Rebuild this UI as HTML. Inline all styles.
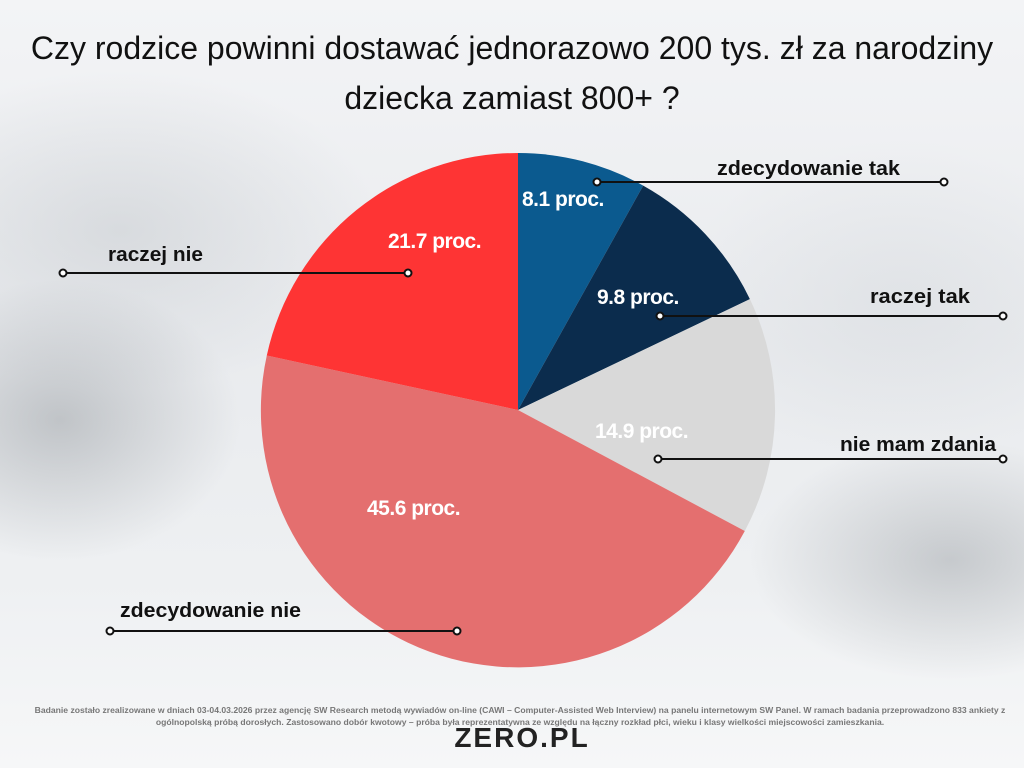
<!DOCTYPE html>
<html><head><meta charset="utf-8"><style>
html,body{margin:0;padding:0}
body{width:1024px;height:768px;overflow:hidden;position:relative;font-family:"Liberation Sans",sans-serif;
background:
radial-gradient(ellipse 180px 140px at 60px 420px,rgba(150,155,160,.5),transparent),
radial-gradient(ellipse 200px 120px at 950px 560px,rgba(150,155,160,.45),transparent),
radial-gradient(ellipse 260px 160px at 120px 230px,rgba(185,190,195,.4),transparent),
radial-gradient(ellipse 220px 160px at 900px 300px,rgba(200,205,210,.3),transparent),
linear-gradient(180deg,#f3f4f6 0%,#e9ebee 45%,#eef0f2 75%,#f6f7f8 100%);}
.t{position:absolute;left:0;width:1024px;text-align:center;font-size:32px;color:#111}
svg{position:absolute;left:0;top:0}
.foot{position:absolute;left:30px;width:980px;text-align:center;font-size:8.6px;font-weight:bold;color:#777;line-height:12px;top:704px}
.logo{position:absolute;left:432px;top:722px;width:180px;text-align:center;font-size:28px;font-weight:bold;color:#222;letter-spacing:2px}
</style></head><body>
<div class="t" style="top:30px">Czy rodzice powinni dostawać jednorazowo 200 tys. zł za narodziny</div>
<div class="t" style="top:80px">dziecka zamiast 800+ ?</div>
<svg width="1024" height="768">
<g>
<path d="M518,410 L518,153 A257,257 0 0 1 643.2,185.6 Z" fill="#0b5a8f"/>
<path d="M518,410 L643.2,185.6 A257,257 0 0 1 749.9,299.1 Z" fill="#0b2c4d"/>
<path d="M518,410 L749.9,299.1 A257,257 0 0 1 744.8,531 Z" fill="#d9d9d9"/>
<path d="M518,410 L744.8,531 A257,257 0 0 1 266.8,355.5 Z" fill="#e46f6f"/>
<path d="M518,410 L266.8,355.5 A257,257 0 0 1 518,153 Z" fill="#fe3434"/>
</g>
<g font-weight="bold" fill="#fff" font-size="21" letter-spacing="-0.5">
<text x="522" y="206">8.1 proc.</text>
<text x="597" y="304">9.8 proc.</text>
<text x="595" y="438">14.9 proc.</text>
<text x="367" y="515">45.6 proc.</text>
<text x="388" y="248">21.7 proc.</text>
</g>
<g stroke="#111" stroke-width="2" fill="#fff">
<line x1="597" y1="182" x2="944" y2="182"/><circle cx="597" cy="182" r="3.5"/><circle cx="944" cy="182" r="3.5"/>
<line x1="660" y1="316" x2="1003" y2="316"/><circle cx="660" cy="316" r="3.5"/><circle cx="1003" cy="316" r="3.5"/>
<line x1="658" y1="459" x2="1003" y2="459"/><circle cx="658" cy="459" r="3.5"/><circle cx="1003" cy="459" r="3.5"/>
<line x1="63" y1="273" x2="408" y2="273"/><circle cx="63" cy="273" r="3.5"/><circle cx="408" cy="273" r="3.5"/>
<line x1="110" y1="631" x2="457" y2="631"/><circle cx="110" cy="631" r="3.5"/><circle cx="457" cy="631" r="3.5"/>
</g>
<g font-weight="bold" fill="#111" font-size="20">
<text x="717" y="175" textLength="183" lengthAdjust="spacingAndGlyphs">zdecydowanie tak</text>
<text x="870" y="303" textLength="100" lengthAdjust="spacingAndGlyphs">raczej tak</text>
<text x="840" y="451" textLength="156" lengthAdjust="spacingAndGlyphs">nie mam zdania</text>
<text x="108" y="261" textLength="95" lengthAdjust="spacingAndGlyphs">raczej nie</text>
<text x="120" y="617" textLength="181" lengthAdjust="spacingAndGlyphs">zdecydowanie nie</text>
</g>
</svg>
<div class="foot">Badanie zostało zrealizowane w dniach 03-04.03.2026 przez agencję SW Research metodą wywiadów on-line (CAWI – Computer-Assisted Web Interview) na panelu internetowym SW Panel. W ramach badania przeprowadzono 833 ankiety z ogólnopolską próbą dorosłych. Zastosowano dobór kwotowy – próba była reprezentatywna ze względu na łączny rozkład płci, wieku i klasy wielkości miejscowości zamieszkania.</div>
<div class="logo">ZERO.PL</div>
</body></html>
